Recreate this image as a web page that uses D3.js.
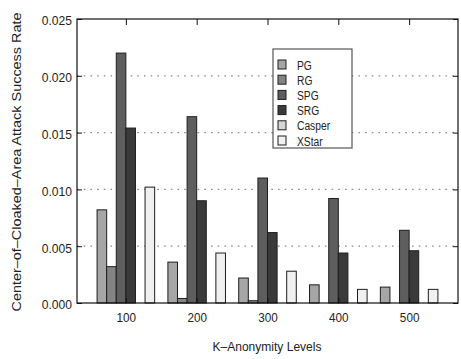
<!DOCTYPE html>
<html>
<head>
<meta charset="utf-8">
<script src="https://cdn.jsdelivr.net/npm/d3@7"></script>
<style>
  html, body { margin: 0; padding: 0; background: #fff; }
  svg { display: block; font-family: "Liberation Sans", Arial, Helvetica, sans-serif; }
</style>
</head>
<body>
<svg id="chart" width="461" height="359"></svg>
<script>
// K-anonymity levels on the x axis
const levels = ["100", "200", "300", "400", "500"];
// Cloaking methods, one bar per method in each group
const methods = ["PG", "RG", "SPG", "SRG", "Casper", "XStar"];
const fills = ["#a6a6a6", "#848484", "#5e5e5e", "#3a3a3a", "#d6d6d6", "#f0f0f0"];

// Attack success rate per method, indexed by level
const PG     = [0.0082, 0.0036, 0.0022, 0.0016, 0.0014];
const RG     = [0.0032, 0.0004, 0.0002, 0.0000, 0.0000];
const SPG    = [0.0220, 0.0164, 0.0110, 0.0092, 0.0064];
const SRG    = [0.0154, 0.0090, 0.0062, 0.0044, 0.0046];
const Casper = [0.0000, 0.0000, 0.0000, 0.0000, 0.0000];
const XStar  = [0.0102, 0.0044, 0.0028, 0.0012, 0.0012];
const series = [PG, RG, SPG, SRG, Casper, XStar];

const yTicks = [0, 0.005, 0.010, 0.015, 0.020, 0.025];

const FONT = '"Liberation Sans", Arial, Helvetica, sans-serif';
const svg = d3.select("#chart");
const L = 77, R = 458, T = 19, B = 303;

// squeeze text horizontally to mimic a condensed Helvetica
function condense(sel, ratio) {
  sel.each(function () {
    const w = this.getComputedTextLength();
    if (w > 0) {
      d3.select(this).attr("textLength", w * ratio).attr("lengthAdjust", "spacingAndGlyphs");
    }
  });
}

const x = d3.scalePoint().domain(levels).range([L, R]).padding(0.69);
const groupW = x.step() * 0.813;
const xs = d3.scaleBand().domain(methods).range([-groupW / 2, groupW / 2]).padding(0);
const y = d3.scaleLinear().domain([0, 0.025]).range([B, T]);

// dotted horizontal grid
svg.append("g").selectAll("line")
  .data(yTicks.filter(v => v > 0 && v < 0.025))
  .join("line")
  .attr("x1", L).attr("x2", R)
  .attr("y1", d => y(d)).attr("y2", d => y(d))
  .attr("stroke", "#8a8a8a").attr("stroke-width", 1.3)
  .attr("stroke-dasharray", "1.6,5.1");

// bars
const groups = svg.append("g").selectAll("g")
  .data(levels)
  .join("g")
  .attr("transform", d => `translate(${x(d)},0)`);

groups.selectAll("rect")
  .data((lv, i) => methods.map((m, j) => ({ m, j, v: series[j][i] })))
  .join("rect")
  .attr("x", d => xs(d.m))
  .attr("width", xs.bandwidth())
  .attr("y", d => y(d.v))
  .attr("height", d => B - y(d.v))
  .attr("fill", d => fills[d.j])
  .attr("stroke", "#1e1e1e")
  .attr("stroke-width", 1);

// frame
svg.append("rect")
  .attr("x", L).attr("y", T).attr("width", R - L).attr("height", B - T)
  .attr("fill", "none").attr("stroke", "#111").attr("stroke-width", 1.2);

// axes with inward ticks, mirrored on the opposite sides
const fmt = d3.format(".3f");
const yAxisL = svg.append("g").attr("transform", `translate(${L},0)`)
  .call(d3.axisLeft(y).tickValues(yTicks).tickFormat(fmt).tickSize(-5).tickPadding(5));
const yAxisR = svg.append("g").attr("transform", `translate(${R},0)`)
  .call(d3.axisRight(y).tickValues(yTicks).tickFormat("").tickSize(-5));
const xAxisB = svg.append("g").attr("transform", `translate(0,${B})`)
  .call(d3.axisBottom(x).tickSize(-5).tickPadding(10));
const xAxisT = svg.append("g").attr("transform", `translate(0,${T})`)
  .call(d3.axisTop(x).tickFormat("").tickSize(-6));

[yAxisL, yAxisR, xAxisB, xAxisT].forEach(a => {
  a.select(".domain").remove();
  a.selectAll(".tick line").attr("stroke", "#111");
  a.selectAll("text").attr("fill", "#222").style("font-size", "13px")
    .style("font-family", FONT);
});
yAxisL.selectAll("text").attr("dy", "0.45em").call(condense, 0.93);
xAxisB.selectAll("text").call(condense, 0.9);

// axis titles
svg.append("text")
  .attr("x", (L + R) / 2 - 0.5).attr("y", 351)
  .attr("text-anchor", "middle")
  .attr("fill", "#222").style("font-size", "13px").style("font-family", FONT)
  .text("K–Anonymity Levels")
  .attr("textLength", 109).attr("lengthAdjust", "spacingAndGlyphs");

svg.append("text")
  .attr("transform", "translate(21,162) rotate(-90)")
  .attr("text-anchor", "middle")
  .attr("fill", "#222").style("font-size", "13px").style("font-family", FONT)
  .text("Center–of–Cloaked–Area Attack Success Rate")
  .attr("textLength", 299).attr("lengthAdjust", "spacingAndGlyphs");

// legend
const lg = svg.append("g").attr("transform", "translate(273,49)");
lg.append("rect").attr("width", 79).attr("height", 99)
  .attr("fill", "#fff").attr("stroke", "#555").attr("stroke-width", 1.2);
const rows = lg.selectAll("g.row").data(methods).join("g")
  .attr("class", "row")
  .attr("transform", (d, i) => `translate(0,${16 + i * 15.2})`);
rows.append("rect")
  .attr("x", 5).attr("y", -5).attr("width", 8).attr("height", 9)
  .attr("fill", (d, i) => fills[i]).attr("stroke", "#1e1e1e").attr("stroke-width", 1);
rows.append("text")
  .attr("x", 24).attr("y", 4.5)
  .attr("fill", "#222").style("font-size", "12.5px").style("font-family", FONT)
  .text(d => d)
  .call(condense, 0.82);
</script>
</body>
</html>
